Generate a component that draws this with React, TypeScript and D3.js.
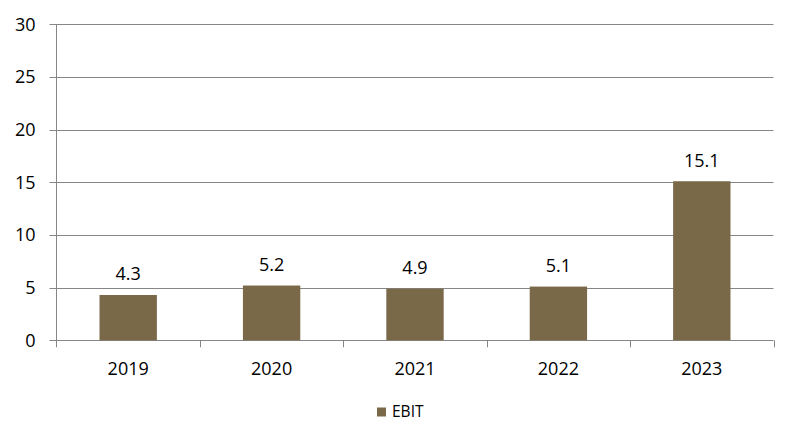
import React from "react";
import * as d3 from "d3";

const categories = ["2019", "2020", "2021", "2022", "2023"];
const ebit = [4.3, 5.2, 4.9, 5.1, 15.1];
const yTicks = [0, 5, 10, 15, 20, 25, 30];
const seriesName = "EBIT";

export default function App() {
  const W = 796, H = 444;
  const left = 56.5, right = 773.5, top = 24.3, bottom = 340.3;
  const x = d3.scaleBand().domain(categories).range([left, right]).paddingInner(0.6).paddingOuter(0.3);
  const xc = d3.scaleBand().domain(categories).range([left, right]);
  const y = d3.scaleLinear().domain([0, 30]).range([bottom, top]);
  const grid = "#868686";
  const barColor = "#7a6948";
  const font = "'Open Sans', 'Noto Sans', 'Liberation Sans', sans-serif";
  const fs = 18;
  return (
    <svg width={W} height={H} style={{ position: "absolute", left: 0, top: 0 }} fontFamily={font}>
      <rect width={W} height={H} fill="#fff" />
      {yTicks.map((t) => (
        <g key={t}>
          <line x1={left - 7} x2={right} y1={Math.round(y(t)) + 0.5} y2={Math.round(y(t)) + 0.5} stroke={grid} strokeWidth={1} />
          <text x={35.5} y={y(t)} dy="0.35em" textAnchor="end" fontSize={fs} fill="#000">{t}</text>
        </g>
      ))}
      <line x1={left} x2={left} y1={top} y2={bottom + 7} stroke={grid} />
      {categories.map((c) => (
        <line key={"t" + c} x1={Math.round((xc(c) as number) + xc.bandwidth()) + 0.5} x2={Math.round((xc(c) as number) + xc.bandwidth()) + 0.5} y1={bottom} y2={bottom + 7} stroke={grid} />
      ))}
      {categories.map((c, i) => (
        <g key={c}>
          <rect x={x(c)} y={y(ebit[i])} width={x.bandwidth()} height={y(0) - y(ebit[i])} fill={barColor} />
          <text x={(x(c) as number) + x.bandwidth() / 2} y={y(ebit[i]) - 21} dy="0.35em" textAnchor="middle" fontSize={fs} fill="#000">{ebit[i].toFixed(1)}</text>
          <text x={(x(c) as number) + x.bandwidth() / 2} y={368.5} dy="0.35em" textAnchor="middle" fontSize={fs} fill="#000">{c}</text>
        </g>
      ))}
      <rect x={377} y={407.5} width={9} height={9} fill={barColor} />
      <text x={392} y={412} dy="0.35em" fontSize={15.5} fill="#000">{seriesName}</text>
    </svg>
  );
}
